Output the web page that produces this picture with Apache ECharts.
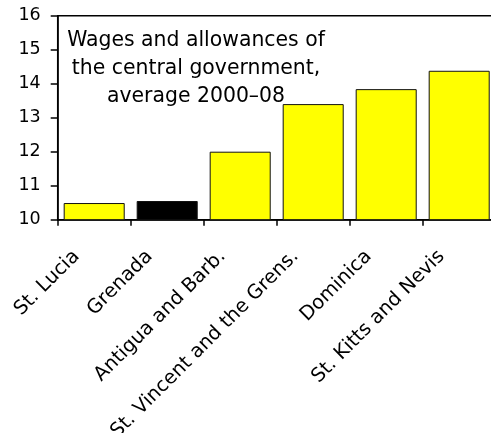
<!DOCTYPE html>
<html>
<head>
<meta charset="utf-8">
<script src="https://cdn.jsdelivr.net/npm/echarts@6/dist/echarts.min.js"></script>
<style>
  html, body { margin: 0; padding: 0; background: #fff; }
  #chart { width: 491px; height: 433px; }
</style>
</head>
<body>
<div id="chart"></div>
<script>
const categories = ['St. Lucia', 'Grenada', 'Antigua and Barb.', 'St. Vincent and the Grens.', 'Dominica', 'St. Kitts and Nevis'];
const values = [10.49, 10.55, 12.0, 13.4, 13.84, 14.38];
const barColors = ['#FFFF00', '#000000', '#FFFF00', '#FFFF00', '#FFFF00', '#FFFF00'];
const titleLines = ['Wages and allowances of', 'the central government,', 'average 2000\u201308'];
const yMin = 10, yMax = 16, yStep = 1;

const chart = echarts.init(document.getElementById('chart'));
chart.setOption({
  animation: false,
  backgroundColor: '#fff',
  title: {
    text: titleLines.join('\n'),
    left: 191,
    top: 21.5,
    textAlign: 'center',
    textStyle: {
      fontFamily: 'DejaVu Sans',
      fontSize: 20.4,
      fontWeight: 'normal',
      color: '#000',
      lineHeight: 28,
      align: 'center'
    }
  },
  grid: {
    left: 57.7,
    top: 15.7,
    width: 438,
    bottom: 213.3,
    show: true,
    borderColor: '#000',
    borderWidth: 1.5,
    containLabel: false,
    outerBoundsMode: 'none'
  },
  xAxis: {
    type: 'category',
    data: categories,
    axisLine: { lineStyle: { color: '#000', width: 1.5 } },
    axisTick: { show: true, length: 6, lineStyle: { color: '#000', width: 1.5 } },
    axisLabel: {
      rotate: 45,
      margin: 16,
      padding: [0, 25, 0, 0],
      interval: 0,
      fontFamily: 'DejaVu Sans',
      fontSize: 19.5,
      color: '#000'
    },
    splitLine: { show: false }
  },
  yAxis: {
    type: 'value',
    min: yMin,
    max: yMax,
    interval: yStep,
    axisLine: { show: true, lineStyle: { color: '#000', width: 1.5 } },
    axisTick: { show: true, inside: false, length: 7, lineStyle: { color: '#000', width: 1.5 } },
    axisLabel: {
      margin: 17,
      fontFamily: 'DejaVu Sans',
      fontSize: 17.5,
      color: '#000'
    },
    splitLine: { show: false }
  },
  series: [{
    type: 'bar',
    data: values.map((v, i) => ({
      value: v,
      itemStyle: { color: barColors[i] }
    })),
    barCategoryGap: '16.4%',
    itemStyle: { borderColor: '#111', borderWidth: 1 }
  }]
});
</script>
</body>
</html>
